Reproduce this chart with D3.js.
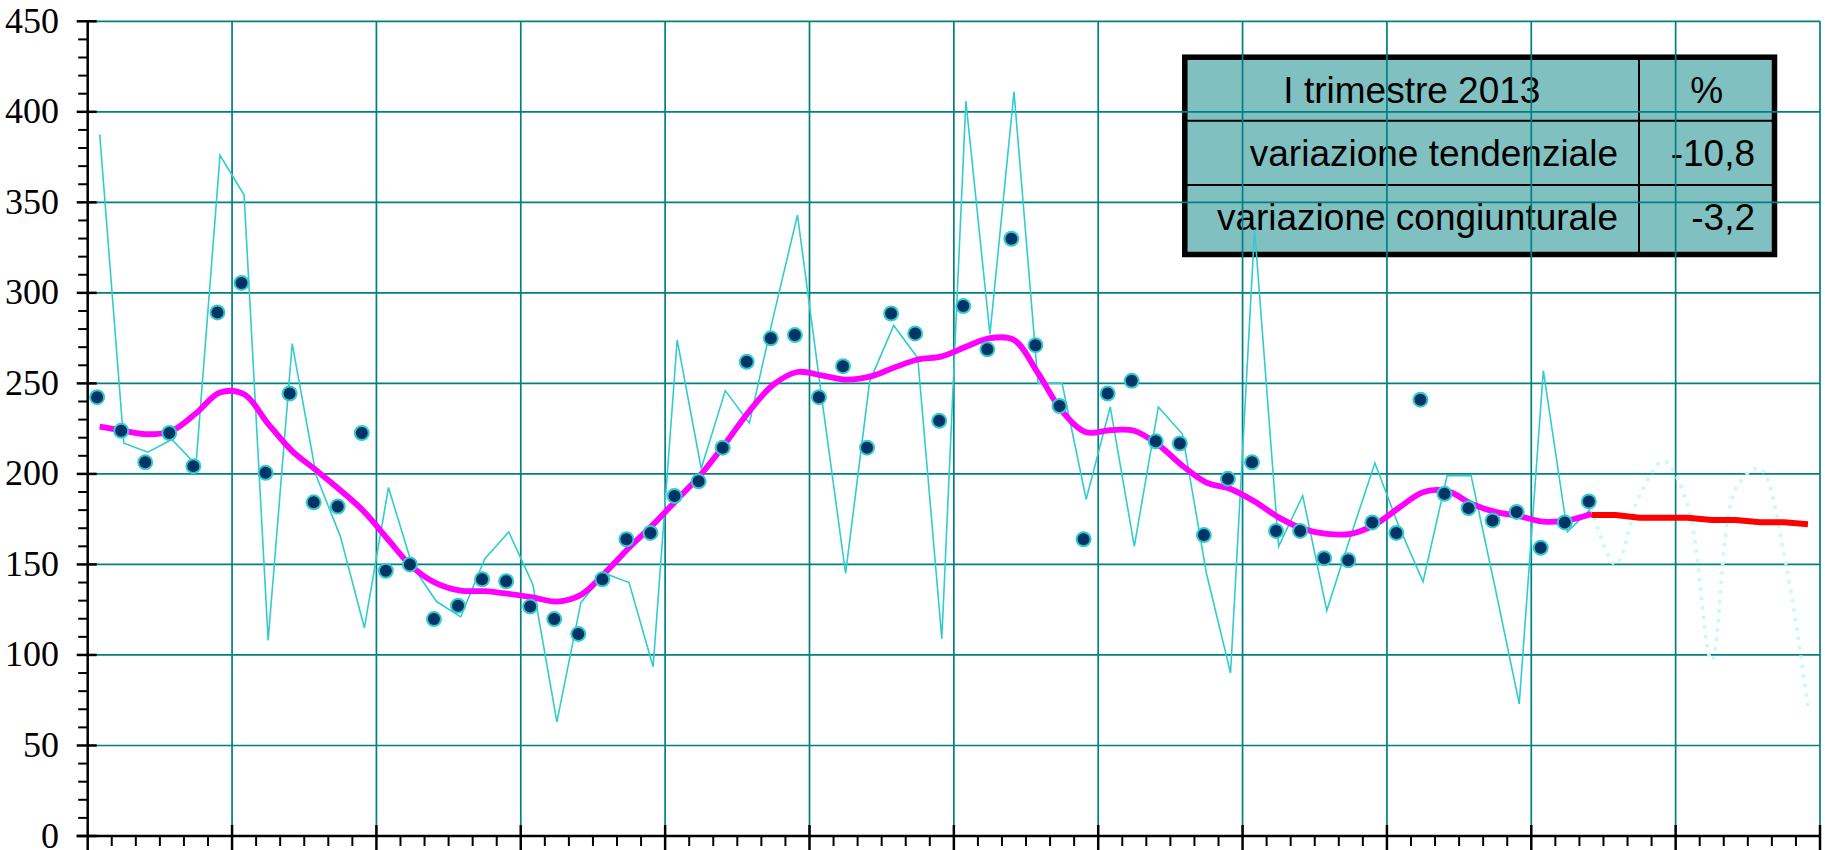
<!DOCTYPE html>
<html>
<head>
<meta charset="utf-8" />
<title>I trimestre 2013</title>
<style>
    html, body {
        margin: 0;
        padding: 0;
        background-color: #fff;
    }
    svg {
        display: block;
    }
</style>
</head>
<body>
<div class="canvas"></div>
<script src="https://d3js.org/d3.v7.min.js"></script>
<script>
    // quarterly series, one value per slot (63 observed quarters)
    var rawValues = [
        387.5, 217, 212, 219, 205, 376, 354, 108, 272, 199,
        165.5, 115, 192.5, 149, 129.5, 121, 153, 168, 139, 63,
        129, 145, 140, 93.5, 274, 203, 246, 228, 287, 343,
        243, 145, 251, 282, 264, 109, 406, 277, 411, 250,
        250, 186, 237, 160, 237, 222, 145, 90, 335, 160,
        188, 124.5, 166, 206, 171, 140.5, 199, 199, 137, 73,
        257, 168, 181
    ];
    var adjustedValues = [
        242.4, 223.8, 206.4, 222.6, 204.3, 289.2, 305.5, 200.6, 244.4, 184.3,
        182, 222.6, 146.5, 150, 119.8, 127.2, 141.8, 140.7, 126.7, 119.8,
        111.6, 141.8, 163.9, 167.4, 187.8, 195.9, 214.5, 261.9, 274.9, 276.7,
        242.4, 259.5, 214.5, 288.6, 277.6, 229.3, 292.7, 268.8, 329.9, 271.1,
        237.5, 163.9, 244.4, 251.4, 218, 216.8, 166.2, 197.3, 206.4, 168.5,
        168.5, 153.4, 152.3, 173.2, 167.4, 241, 189, 181.1, 174.3, 179,
        159.2, 173.2, 184.8
    ];
    var trendValues = [
        226.1, 223.8, 221.9, 223.8, 233.5, 245, 244, 227.7, 212.6, 202,
        191, 179, 163.5, 148.5, 139.5, 135.5, 135.2, 133.7, 131.8, 129.5,
        133.2, 145.3, 159.2, 172, 185.9, 199.9, 216.8, 234.7, 249.3, 256.3,
        254.4, 252.1, 253.7, 258.6, 263.2, 264.9, 270.2, 275, 274, 255.6,
        234.7, 223, 224.2, 223.8, 216, 204.5, 195.2, 191.7, 184.8, 176,
        169.7, 166.9, 166.9, 172, 181.3, 189.9, 190.6, 183.6, 179, 176.7,
        173.6, 174.3, 177.8
    ];
    // forecasts start at the last observed quarter
    var forecastStart = 62;
    var trendForecast = [177.3, 177.3, 175.8, 175.8, 175.8, 174.5, 174.5, 173.3, 173.3, 172.2];
    var rawForecast = [181, 150, 188, 207, 183, 97, 192, 203, 156, 71];

    var yTicks = [0, 50, 100, 150, 200, 250, 300, 350, 400, 450];
    var totalSlots = 72;
    var slotsPerMajor = 6;

    var tableHeader = ["I trimestre 2013", "%"];
    var tableLabels = ["variazione tendenziale", "variazione congiunturale"];
    var tableValues = ["-10,8", "-3,2"];

    var width = 1825, height = 850;

    var x = d3.scaleLinear().domain([0, totalSlots]).range([87.7, 1820]);
    var y = d3.scaleLinear().domain([0, 450]).range([836, 21.3]);
    function cx(i) { return x(i + 0.5); }

    var svg = d3.select(".canvas")
                .append("svg")
                .attr("width", width)
                .attr("height", height);

    // ---- table (sits under grid and data, like the original) ----
    var tLeft = 1184.8, tRight = 1774.5, tTop = 57.2, tBottom = 254.5;
    var tCol = 1639, tRows = [120.7, 185];
    var table = svg.append("g").attr("class", "table");

    table.append("rect")
        .attr("x", tLeft).attr("y", tTop)
        .attr("width", tRight - tLeft).attr("height", tBottom - tTop)
        .attr("fill", "#80c0c0");

    tRows.forEach(function(ry) {
        table.append("line")
            .attr("x1", tLeft).attr("x2", tRight)
            .attr("y1", ry).attr("y2", ry)
            .attr("stroke", "#000").attr("stroke-width", 2);
    });
    table.append("line")
        .attr("x1", tCol).attr("x2", tCol)
        .attr("y1", tTop).attr("y2", tBottom)
        .attr("stroke", "#000").attr("stroke-width", 2);
    table.append("rect")
        .attr("x", tLeft).attr("y", tTop)
        .attr("width", tRight - tLeft).attr("height", tBottom - tTop)
        .attr("fill", "none")
        .attr("stroke", "#000").attr("stroke-width", 5.5);

    var tFont = "'Liberation Sans', Arial, sans-serif";
    table.append("text")
        .attr("x", (tLeft + tCol) / 2).attr("y", 102.7)
        .attr("text-anchor", "middle")
        .style("font-family", tFont).style("font-size", "37px")
        .text(tableHeader[0]);
    table.append("text")
        .attr("x", (tCol + tRight) / 2).attr("y", 102.7)
        .attr("text-anchor", "middle")
        .style("font-family", tFont).style("font-size", "37px")
        .text(tableHeader[1]);

    var rowBase = [165.7, 230];
    tableLabels.forEach(function(lbl, k) {
        table.append("text")
            .attr("x", 1618).attr("y", rowBase[k])
            .attr("text-anchor", "end")
            .style("font-family", tFont).style("font-size", "37px")
            .text(lbl);
        table.append("text")
            .attr("x", 1755).attr("y", rowBase[k])
            .attr("text-anchor", "end")
            .style("font-family", tFont).style("font-size", "37px")
            .text(tableValues[k]);
    });

    // ---- grid ----
    var grid = svg.append("g").attr("class", "grid");
    grid.selectAll("line.h")
        .data(yTicks.filter(function(d) { return d > 0; }))
        .enter().append("line")
        .attr("class", "h")
        .attr("x1", x(0)).attr("x2", x(totalSlots))
        .attr("y1", function(d) { return y(d); })
        .attr("y2", function(d) { return y(d); })
        .attr("stroke", "#008080").attr("stroke-width", 1.7);

    var majors = d3.range(slotsPerMajor, totalSlots + 1, slotsPerMajor);
    grid.selectAll("line.v")
        .data(majors)
        .enter().append("line")
        .attr("class", "v")
        .attr("x1", function(d) { return x(d); })
        .attr("x2", function(d) { return x(d); })
        .attr("y1", y(450)).attr("y2", y(0))
        .attr("stroke", "#008080").attr("stroke-width", 1.7);

    // ---- series ----
    var rawPts = rawValues.map(function(v, i) { return [cx(i), y(v)]; });
    var rawFcPts = rawForecast.map(function(v, i) { return [cx(forecastStart + i), y(v)]; });
    var trendPts = trendValues.map(function(v, i) { return [cx(i), y(v)]; });
    var trendFcPts = trendForecast.map(function(v, i) { return [cx(forecastStart + i), y(v)]; });

    svg.append("path")
        .attr("d", d3.line()(rawPts))
        .attr("fill", "none")
        .attr("stroke", "#33cccc")
        .attr("stroke-width", 1.6);

    svg.append("path")
        .attr("d", d3.line().curve(d3.curveCatmullRom)(rawFcPts))
        .attr("fill", "none")
        .attr("stroke", "#c4fafa")
        .attr("stroke-width", 3.5)
        .attr("stroke-dasharray", "3.5,6");

    svg.append("path")
        .attr("d", d3.line().curve(d3.curveCatmullRom)(trendPts))
        .attr("fill", "none")
        .attr("stroke", "#ff00ff")
        .attr("stroke-width", 5.8)
        .attr("stroke-linejoin", "round");

    svg.append("path")
        .attr("d", d3.line()(trendFcPts))
        .attr("fill", "none")
        .attr("stroke", "#ff0000")
        .attr("stroke-width", 6);

    svg.selectAll("circle.sa")
        .data(adjustedValues)
        .enter().append("circle")
        .attr("class", "sa")
        .attr("cx", function(d, i) { return cx(i) - 2.6; })
        .attr("cy", function(d) { return y(d); })
        .attr("r", 7)
        .attr("fill", "#003366")
        .attr("stroke", "#33cccc")
        .attr("stroke-width", 2);

    // ---- axes ----
    var axes = svg.append("g").attr("class", "axes");
    // y axis
    axes.append("line")
        .attr("x1", x(0)).attr("x2", x(0))
        .attr("y1", y(450) - 1).attr("y2", 850)
        .attr("stroke", "#000").attr("stroke-width", 2.5);
    axes.selectAll("line.ymaj")
        .data(yTicks)
        .enter().append("line")
        .attr("class", "ymaj")
        .attr("x1", x(0) - 11).attr("x2", x(0) + 9)
        .attr("y1", function(d) { return y(d); })
        .attr("y2", function(d) { return y(d); })
        .attr("stroke", "#000").attr("stroke-width", 2.5);
    axes.selectAll("line.ymin")
        .data(d3.range(10, 450, 10).filter(function(d) { return d % 50 !== 0; }))
        .enter().append("line")
        .attr("class", "ymin")
        .attr("x1", x(0) - 9.5).attr("x2", x(0))
        .attr("y1", function(d) { return y(d); })
        .attr("y2", function(d) { return y(d); })
        .attr("stroke", "#000").attr("stroke-width", 2);
    axes.selectAll("text.ylab")
        .data(yTicks)
        .enter().append("text")
        .attr("class", "ylab")
        .attr("x", 59)
        .attr("y", function(d) { return y(d); })
        .attr("dy", "0.32em")
        .attr("text-anchor", "end")
        .style("font-family", "'Liberation Serif', 'Times New Roman', serif")
        .style("font-size", "36px")
        .text(function(d) { return d; });

    // x axis
    axes.append("line")
        .attr("x1", x(0) - 11).attr("x2", x(totalSlots))
        .attr("y1", y(0)).attr("y2", y(0))
        .attr("stroke", "#000").attr("stroke-width", 2.5);
    axes.selectAll("line.xmaj")
        .data(majors)
        .enter().append("line")
        .attr("class", "xmaj")
        .attr("x1", function(d) { return x(d); })
        .attr("x2", function(d) { return x(d); })
        .attr("y1", y(0) - 11).attr("y2", 850)
        .attr("stroke", "#000").attr("stroke-width", 2.5);
    axes.selectAll("line.xmin")
        .data(d3.range(1, totalSlots).filter(function(d) { return d % slotsPerMajor !== 0; }))
        .enter().append("line")
        .attr("class", "xmin")
        .attr("x1", function(d) { return x(d); })
        .attr("x2", function(d) { return x(d); })
        .attr("y1", y(0)).attr("y2", y(0) + 10)
        .attr("stroke", "#000").attr("stroke-width", 2);
</script>
</body>
</html>
